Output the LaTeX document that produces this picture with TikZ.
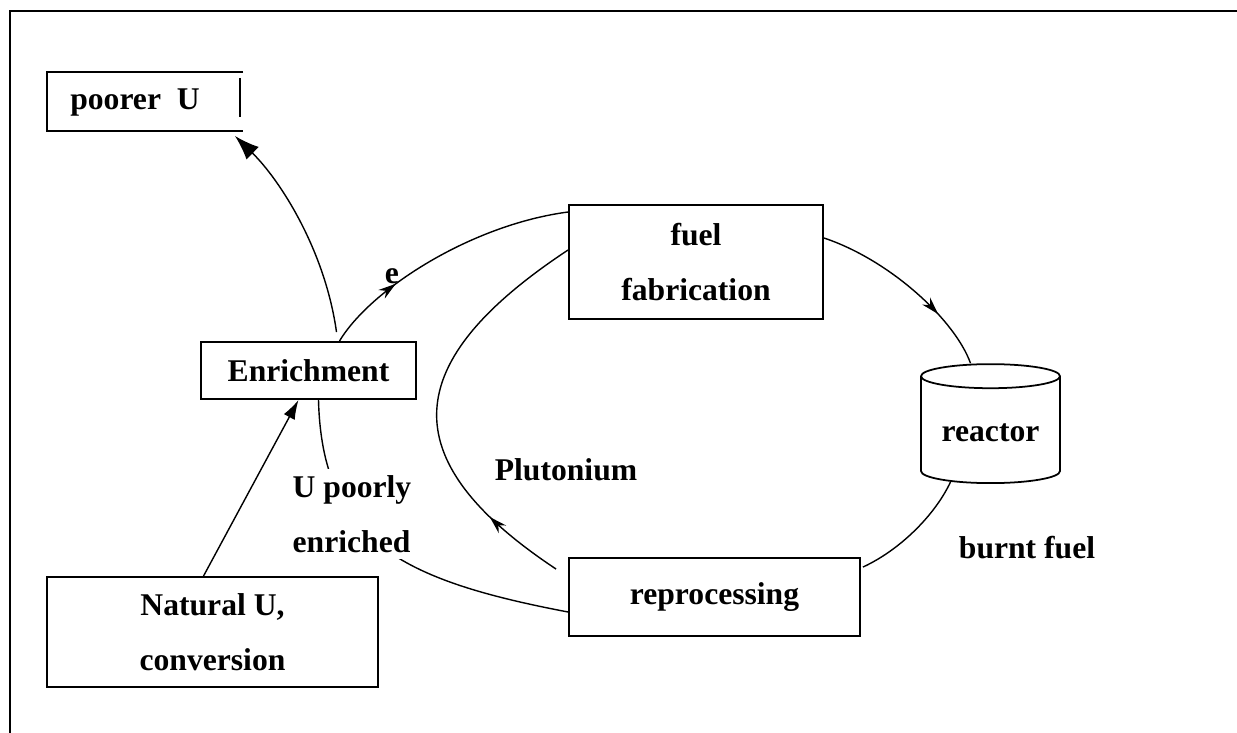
\documentclass[tikz,border=0pt]{standalone}
\usepackage{fontspec}
\setmainfont{Liberation Serif}
\usetikzlibrary{arrows.meta,calc,shapes.geometric,decorations.markings}

\begin{document}
\begin{tikzpicture}[x=0.02cm, y=-0.02cm,
  every node/.style={font=\bfseries\fontsize{18}{31}\selectfont},
  box/.style={draw, line width=1.1pt, align=center},
  flow/.style={line width=0.8pt},
  midarrow/.style={postaction={decorate}, decoration={markings,
      mark=at position #1 with {\arrow{Stealth[length=10pt,width=6pt]}}}}]
\useasboundingbox (0,0) rectangle (1237,733);
\draw[line width=1.2pt] (10,733) -- (10,11) -- (1237,11);

% the boxes
\node[box, minimum width=4.3cm, minimum height=1.14cm] (enrich) at (308.5,370.5) {Enrichment};
\node[box, minimum width=5.08cm, minimum height=2.28cm] (fab) at (696,262) {fuel\\fabrication};
\node[box, minimum width=5.82cm, minimum height=1.56cm] (reproc) at (714.5,597) {reprocessing};
\node[box, minimum width=6.62cm, minimum height=2.2cm] (natural) at (212.5,632) {Natural U,\\conversion};
\node[cylinder, shape border rotate=90, aspect=0.22, draw, line width=1pt,
      minimum width=2.78cm, minimum height=2.38cm] (reactor) at (990.5,432.5) {reactor};

% open box for the tails
\draw[line width=1.1pt] (243,72) -- (47,72) -- (47,131) -- (243,131);
\draw[line width=1.1pt] (240,78) -- (240,117);
\node (poorer) at (135,103) {poorer~~U};
\coordinate (poorertip) at (235,136);

% the cycle
\draw[flow, midarrow=0.3] ($(enrich.north)+(31,0)$) .. controls (370,290) and (470,225) .. ($(fab.west)+(0,-50)$);
\draw[flow, thick, midarrow=0.7] ($(fab.east)+(0,-24)$) .. controls (890,260) and (955,320) .. ($(reactor.north)+(-20,0)$);
\draw[flow, thick] ($(reactor.south)+(-40,-2)$) .. controls (935,515) and (900,550) .. ($(reproc.north east)+(2,10)$);
\draw[flow, midarrow=0.2] ($(reproc.north west)+(-12,12)$) .. controls (390,459) and (400,361) .. ($(fab.west)+(0,-12)$);
\draw[flow] ($(reproc.west)+(0,15)$) .. controls (400,580) and (322,540) .. ($(enrich.south)+(10,0)$);

% in and out of enrichment
\draw[flow, -{Latex[length=11pt,width=7pt]}] ($(natural.north)+(-9,0)$) -- ($(enrich.south)+(-10,0)$);
\draw[flow, -{Latex[length=14pt,width=10pt]}] ($(enrich.north)+(28,-9)$) .. controls (325,250) and (280,180) .. (poorertip);

% labels
\node[fill=white, align=left, inner sep=4pt] (poorly) at (352,514) {U poorly\\enriched};
\node (pu) at (566,470) {Plutonium};
\node (burnt) at (1027,548) {burnt fuel};
\node (e) at (392,276) {e};
\end{tikzpicture}
\end{document}
